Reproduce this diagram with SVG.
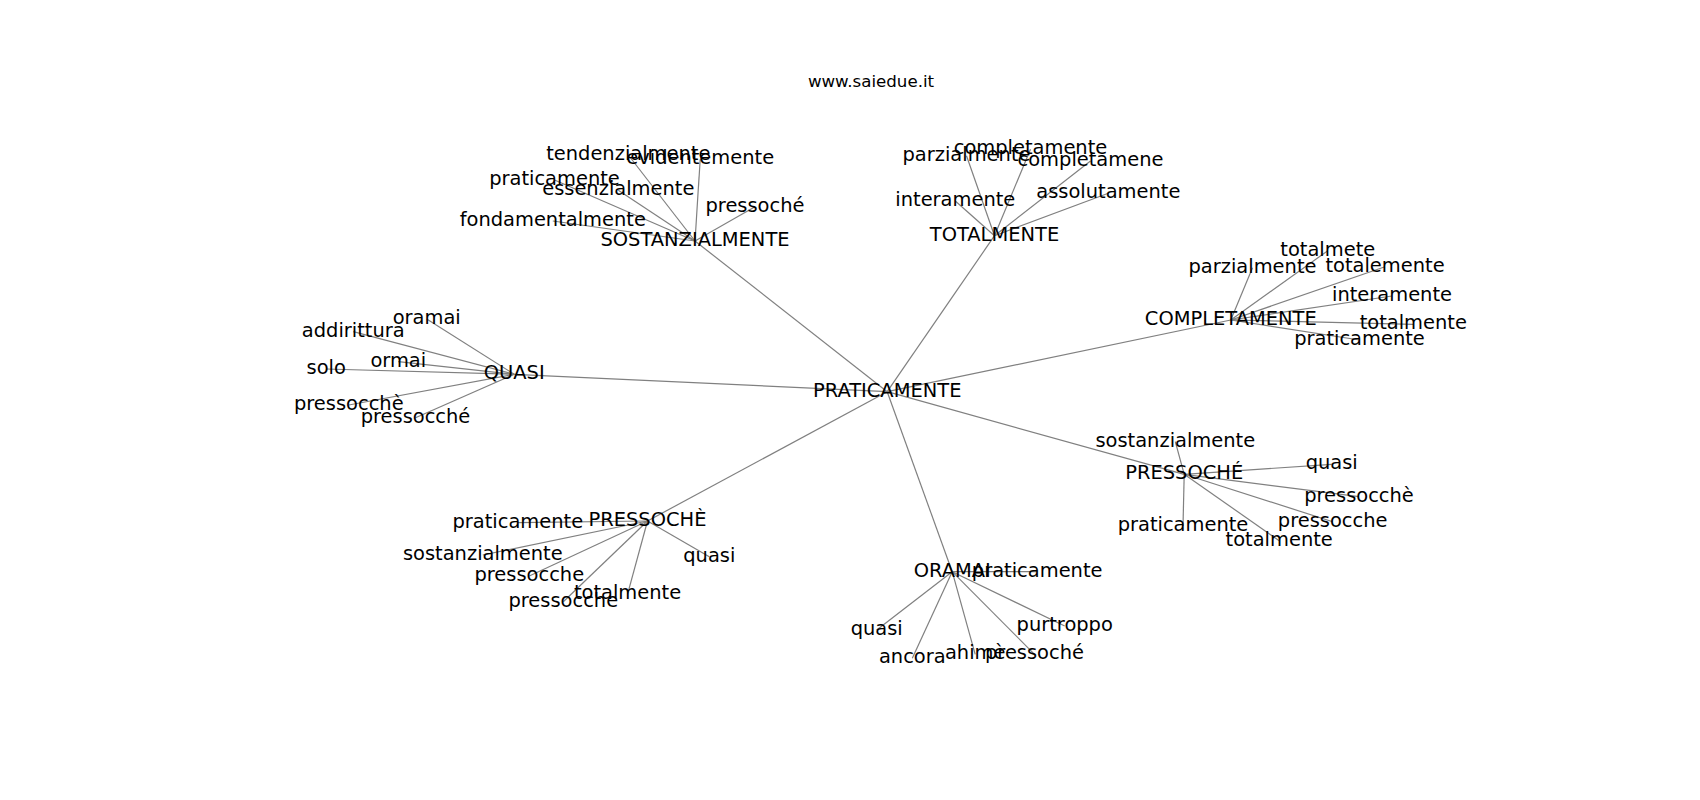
<svg xmlns="http://www.w3.org/2000/svg" width="1700" height="800" viewBox="0 0 1700 800">
<style>
  .bg { fill: #ffffff; }
  .edges line { stroke: #808080; stroke-width: 1.2; }
  .node text { font-family: "DejaVu Sans", "Liberation Sans", sans-serif; font-size: 19.44px; fill: #000000; text-anchor: middle; }
  .title { font-family: "DejaVu Sans", "Liberation Sans", sans-serif; font-size: 16.67px; fill: #000000; text-anchor: middle; }
</style>
<rect class="bg" x="0" y="0" width="1700" height="800"/>
<text class="title" x="871" y="87">www.saiedue.it</text>
<g id="connectors" class="edges">
  <line x1="887.2" y1="391.7" x2="695" y2="241"/>
  <line x1="887.2" y1="391.7" x2="994.5" y2="235.7"/>
  <line x1="887.2" y1="391.7" x2="1230.8" y2="320"/>
  <line x1="887.2" y1="391.7" x2="514.2" y2="374.3"/>
  <line x1="887.2" y1="391.7" x2="1184.2" y2="474.3"/>
  <line x1="887.2" y1="391.7" x2="647.5" y2="521"/>
  <line x1="887.2" y1="391.7" x2="952.2" y2="571.7"/>

  <line x1="695" y1="241" x2="628.3" y2="155"/>
  <line x1="695" y1="241" x2="700.2" y2="159.3"/>
  <line x1="695" y1="241" x2="554.5" y2="180"/>
  <line x1="695" y1="241" x2="618.3" y2="190.3"/>
  <line x1="695" y1="241" x2="755" y2="206.7"/>
  <line x1="695" y1="241" x2="552.8" y2="221"/>

  <line x1="994.5" y1="235.7" x2="966.5" y2="155.7"/>
  <line x1="994.5" y1="235.7" x2="1030.5" y2="149.3"/>
  <line x1="994.5" y1="235.7" x2="1090.5" y2="161"/>
  <line x1="994.5" y1="235.7" x2="955.3" y2="201"/>
  <line x1="994.5" y1="235.7" x2="1108.3" y2="193.3"/>

  <line x1="1230.8" y1="320" x2="1327.8" y2="250.7"/>
  <line x1="1230.8" y1="320" x2="1252.5" y2="267.7"/>
  <line x1="1230.8" y1="320" x2="1385" y2="266.7"/>
  <line x1="1230.8" y1="320" x2="1392" y2="296"/>
  <line x1="1230.8" y1="320" x2="1413.3" y2="324.3"/>
  <line x1="1230.8" y1="320" x2="1359.5" y2="340"/>

  <line x1="514.2" y1="374.3" x2="426.7" y2="319"/>
  <line x1="514.2" y1="374.3" x2="353.3" y2="331.7"/>
  <line x1="514.2" y1="374.3" x2="326.2" y2="369"/>
  <line x1="514.2" y1="374.3" x2="398.3" y2="361.7"/>
  <line x1="514.2" y1="374.3" x2="348.8" y2="405"/>
  <line x1="514.2" y1="374.3" x2="415.5" y2="417.7"/>

  <line x1="1184.2" y1="474.3" x2="1175.3" y2="441.7"/>
  <line x1="1184.2" y1="474.3" x2="1331.7" y2="464.3"/>
  <line x1="1184.2" y1="474.3" x2="1359" y2="496.7"/>
  <line x1="1184.2" y1="474.3" x2="1332.7" y2="521.7"/>
  <line x1="1184.2" y1="474.3" x2="1183" y2="526"/>
  <line x1="1184.2" y1="474.3" x2="1279.2" y2="540.7"/>

  <line x1="647.5" y1="521" x2="517.8" y2="522.7"/>
  <line x1="647.5" y1="521" x2="482.8" y2="555"/>
  <line x1="647.5" y1="521" x2="709.3" y2="556.7"/>
  <line x1="647.5" y1="521" x2="529.3" y2="576"/>
  <line x1="647.5" y1="521" x2="627.5" y2="594.3"/>
  <line x1="647.5" y1="521" x2="563.3" y2="601.7"/>

  <line x1="952.2" y1="571.7" x2="1037.2" y2="571.7"/>
  <line x1="952.2" y1="571.7" x2="876.7" y2="630"/>
  <line x1="952.2" y1="571.7" x2="1064.7" y2="626"/>
  <line x1="952.2" y1="571.7" x2="912.3" y2="658.3"/>
  <line x1="952.2" y1="571.7" x2="975.2" y2="654.3"/>
  <line x1="952.2" y1="571.7" x2="1034.5" y2="654.3"/>
</g>

<g id="n-praticamente-center" class="node"><text x="887.2" y="396.7">PRATICAMENTE</text></g>

<g id="n-sostanzialmente-hub" class="node"><text x="695" y="246">SOSTANZIALMENTE</text></g>
<g id="n-s-tendenzialmente" class="node"><text x="628.3" y="160">tendenzialmente</text></g>
<g id="n-s-evidentemente" class="node"><text x="700.2" y="164.3">evidentemente</text></g>
<g id="n-s-praticamente" class="node"><text x="554.5" y="185">praticamente</text></g>
<g id="n-s-essenzialmente" class="node"><text x="618.3" y="195.3">essenzialmente</text></g>
<g id="n-s-pressoche" class="node"><text x="755" y="211.7">pressoché</text></g>
<g id="n-s-fondamentalmente" class="node"><text x="552.8" y="226">fondamentalmente</text></g>

<g id="n-totalmente-hub" class="node"><text x="994.5" y="240.7">TOTALMENTE</text></g>
<g id="n-t-parzialmente" class="node"><text x="966.5" y="160.7">parzialmente</text></g>
<g id="n-t-completamente" class="node"><text x="1030.5" y="154.3">completamente</text></g>
<g id="n-t-completamene" class="node"><text x="1090.5" y="166">completamene</text></g>
<g id="n-t-interamente" class="node"><text x="955.3" y="206">interamente</text></g>
<g id="n-t-assolutamente" class="node"><text x="1108.3" y="198.3">assolutamente</text></g>

<g id="n-completamente-hub" class="node"><text x="1230.8" y="325">COMPLETAMENTE</text></g>
<g id="n-c-totalmete" class="node"><text x="1327.8" y="255.7">totalmete</text></g>
<g id="n-c-parzialmente" class="node"><text x="1252.5" y="272.7">parzialmente</text></g>
<g id="n-c-totalemente" class="node"><text x="1385" y="271.7">totalemente</text></g>
<g id="n-c-interamente" class="node"><text x="1392" y="301">interamente</text></g>
<g id="n-c-totalmente" class="node"><text x="1413.3" y="329.3">totalmente</text></g>
<g id="n-c-praticamente" class="node"><text x="1359.5" y="345">praticamente</text></g>

<g id="n-quasi-hub" class="node"><text x="514.2" y="379.3">QUASI</text></g>
<g id="n-q-oramai" class="node"><text x="426.7" y="324">oramai</text></g>
<g id="n-q-addirittura" class="node"><text x="353.3" y="336.7">addirittura</text></g>
<g id="n-q-solo" class="node"><text x="326.2" y="374">solo</text></g>
<g id="n-q-ormai" class="node"><text x="398.3" y="366.7">ormai</text></g>
<g id="n-q-pressocche-grave" class="node"><text x="348.8" y="410">pressocchè</text></g>
<g id="n-q-pressocche-acute" class="node"><text x="415.5" y="422.7">pressocché</text></g>

<g id="n-pressoche-acute-hub" class="node"><text x="1184.2" y="479.3">PRESSOCHÉ</text></g>
<g id="n-pa-sostanzialmente" class="node"><text x="1175.3" y="446.7">sostanzialmente</text></g>
<g id="n-pa-quasi" class="node"><text x="1331.7" y="469.3">quasi</text></g>
<g id="n-pa-pressocche-grave" class="node"><text x="1359" y="501.7">pressocchè</text></g>
<g id="n-pa-pressocche" class="node"><text x="1332.7" y="526.7">pressocche</text></g>
<g id="n-pa-praticamente" class="node"><text x="1183" y="531">praticamente</text></g>
<g id="n-pa-totalmente" class="node"><text x="1279.2" y="545.7">totalmente</text></g>

<g id="n-pressoche-grave-hub" class="node"><text x="647.5" y="526">PRESSOCHÈ</text></g>
<g id="n-pg-praticamente" class="node"><text x="517.8" y="527.7">praticamente</text></g>
<g id="n-pg-sostanzialmente" class="node"><text x="482.8" y="560">sostanzialmente</text></g>
<g id="n-pg-quasi" class="node"><text x="709.3" y="561.7">quasi</text></g>
<g id="n-pg-pressocche-1" class="node"><text x="529.3" y="581">pressocche</text></g>
<g id="n-pg-totalmente" class="node"><text x="627.5" y="599.3">totalmente</text></g>
<g id="n-pg-pressocche-2" class="node"><text x="563.3" y="606.7">pressocche</text></g>

<g id="n-oramai-hub" class="node"><text x="952.2" y="576.7">ORAMAI</text></g>
<g id="n-o-praticamente" class="node"><text x="1037.2" y="576.7">praticamente</text></g>
<g id="n-o-quasi" class="node"><text x="876.7" y="635">quasi</text></g>
<g id="n-o-purtroppo" class="node"><text x="1064.7" y="631">purtroppo</text></g>
<g id="n-o-ancora" class="node"><text x="912.3" y="663.3">ancora</text></g>
<g id="n-o-ahime" class="node"><text x="975.2" y="659.3">ahimè</text></g>
<g id="n-o-pressoche" class="node"><text x="1034.5" y="659.3">pressoché</text></g>
</svg>
